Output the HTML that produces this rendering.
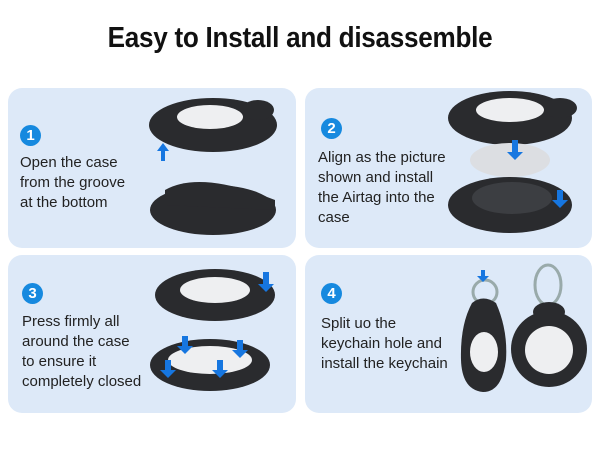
<!DOCTYPE html>
<html><head><style>
body{margin:0;width:600px;height:450px;background:#fff;position:relative;overflow:hidden;font-family:"Liberation Sans",sans-serif}
.t{position:absolute;left:0;width:600px;top:22px;text-align:center;font-weight:bold;font-size:29px;letter-spacing:-0.3px;transform:scaleX(0.9);color:#111}
.p{position:absolute;background:#dde9f8;border-radius:14px}
.n{position:absolute;width:21px;height:21px;border-radius:50%;background:#1689df;color:#fff;font-weight:bold;font-size:15px;text-align:center;line-height:21px}
.x{position:absolute;font-size:15px;line-height:20px;color:#222}
svg{position:absolute;left:0;top:0}
</style></head><body>
<div class="t">Easy to Install and disassemble</div>
<div class="p" style="left:8px;top:88px;width:288px;height:160px"></div>
<div class="p" style="left:305px;top:88px;width:287px;height:160px"></div>
<div class="p" style="left:8px;top:255px;width:288px;height:158px"></div>
<div class="p" style="left:305px;top:255px;width:287px;height:158px"></div>
<div class="n" style="left:20px;top:125px">1</div>
<div class="n" style="left:321px;top:118px">2</div>
<div class="n" style="left:22px;top:283px">3</div>
<div class="n" style="left:321px;top:283px">4</div>
<div class="x" style="left:20px;top:153px">Open the case<br>from the groove<br>at the bottom</div>
<div class="x" style="left:318px;top:148px">Align as the picture<br>shown and install<br>the Airtag into the<br>case</div>
<div class="x" style="left:22px;top:312px">Press firmly all<br>around the case<br>to ensure it<br>completely closed</div>
<div class="x" style="left:321px;top:314px">Split uo the<br>keychain hole and<br>install the keychain</div>
<svg width="600" height="450">
<g fill="none" stroke="#9aa" stroke-width="3"><circle cx="485" cy="292" r="12"/><ellipse cx="548" cy="285" rx="13" ry="20"/></g>
<g fill="#2a2b2e">
<ellipse cx="213" cy="125" rx="64" ry="27"/><ellipse cx="258" cy="110" rx="16" ry="10"/>
<ellipse cx="213" cy="210" rx="63" ry="25"/><path d="M165 190 Q200 170 275 200 L275 210 L165 205Z"/>
<ellipse cx="510" cy="118" rx="62" ry="27"/><ellipse cx="560" cy="108" rx="17" ry="10"/>
<ellipse cx="510" cy="205" rx="62" ry="28"/>
<ellipse cx="215" cy="295" rx="60" ry="26"/>
<ellipse cx="210" cy="365" rx="60" ry="26"/>
<path d="M472 303 Q483 294 496 303 Q508 330 506 360 Q502 392 483 392 Q462 390 461 360 Q460 325 472 303Z"/>
<circle cx="549" cy="349" r="38"/><ellipse cx="549" cy="312" rx="16" ry="10"/>
</g>
<g fill="#eeeff1">
<ellipse cx="210" cy="117" rx="33" ry="12"/>
<ellipse cx="510" cy="110" rx="34" ry="12"/>
<ellipse cx="510" cy="160" rx="40" ry="17" fill="#dcdee2"/>
<ellipse cx="512" cy="198" rx="40" ry="16" fill="#3c3e42"/>
<ellipse cx="215" cy="290" rx="35" ry="13"/>
<ellipse cx="210" cy="360" rx="42" ry="14"/>
<ellipse cx="484" cy="352" rx="14" ry="20"/>
<circle cx="549" cy="350" r="24"/>
</g>
<g fill="#1676e0">
<path d="M163 143 l-6 8 h4 v10 h4 v-10 h4z"/>
<path d="M512 140 h6 v12 h5 l-8 8 -8 -8 h5z"/>
<path d="M557 190 h6 v10 h5 l-8 8 -8 -8 h5z"/>
<path d="M263 272 h6 v12 h5 l-8 8 -8 -8 h5z"/>
<path d="M182 336 h6 v10 h5 l-8 8 -8 -8 h5z"/>
<path d="M237 340 h6 v10 h5 l-8 8 -8 -8 h5z"/>
<path d="M165 360 h6 v10 h5 l-8 8 -8 -8 h5z"/>
<path d="M217 360 h6 v10 h5 l-8 8 -8 -8 h5z"/>
<path d="M481 270 h4 v6 h4 l-6 6 -6 -6 h4z"/>
</g>
</svg>
</body></html>
